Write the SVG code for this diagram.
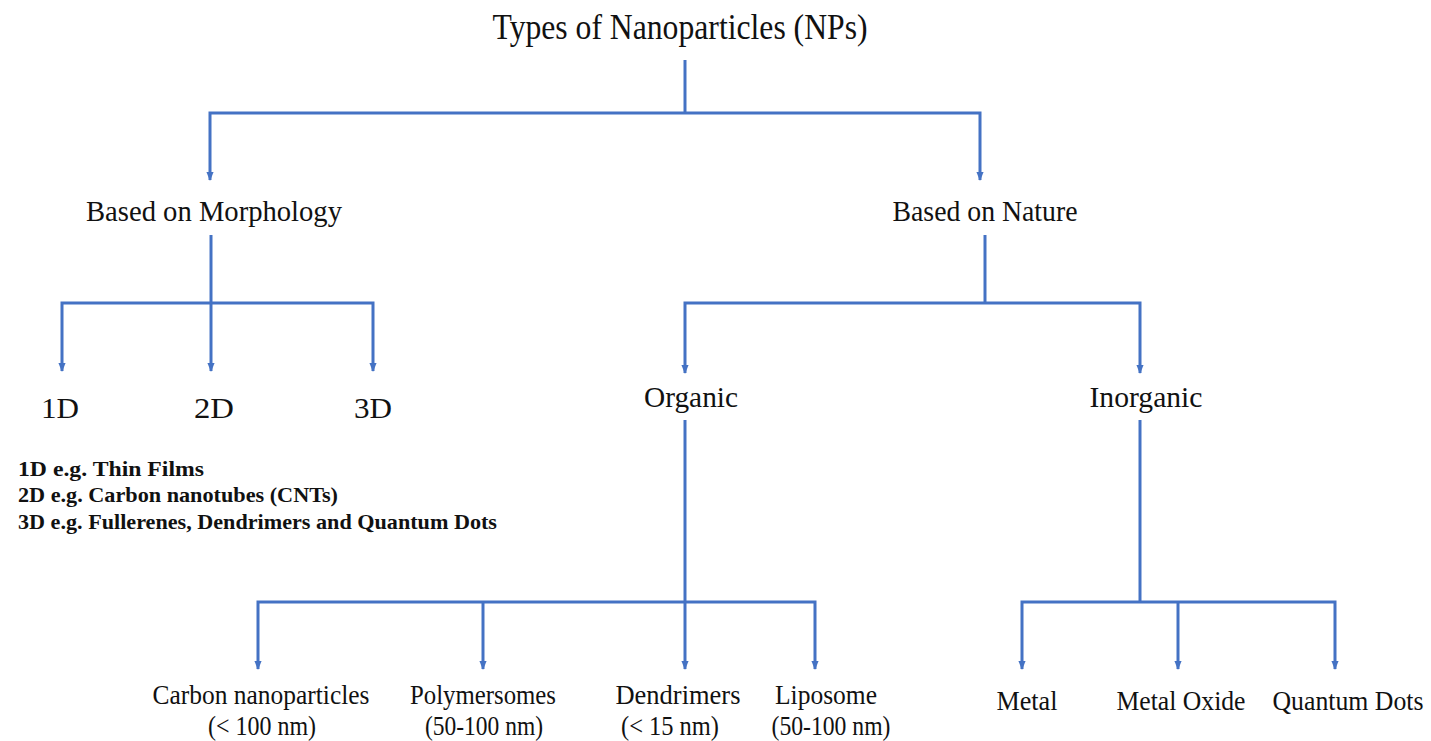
<svg xmlns="http://www.w3.org/2000/svg" width="1431" height="741" viewBox="0 0 1431 741">
<style>
  .t { font-family: "Liberation Serif", "Times New Roman", serif; fill: #111; text-anchor: middle; }
  .title { font-size: 36px; }
  .lvl1 { font-size: 30px; }
  .lvl2 { font-size: 30px; }
  .leaf { font-size: 27px; }
  .note { font-family: "Liberation Serif", "Times New Roman", serif; font-weight: bold; font-size: 21px; fill: #111; }
  .c { fill: none; stroke: #4472C4; stroke-width: 3; }
  .a { marker-end: url(#arr); }
</style>
<defs>
  <marker id="arr" viewBox="0 0 10 10" refX="9" refY="5" markerWidth="9" markerHeight="10" markerUnits="userSpaceOnUse" orient="auto">
    <path d="M0,1 L10,5 L0,9 z" fill="#4472C4"/>
  </marker>
</defs>
<rect width="1431" height="741" fill="#fff"/>
<g id="connectors">
  <path class="c" d="M685,60 V113"/>
  <path class="c a" d="M685,113 H210 V180"/>
  <path class="c a" d="M685,113 H980 V180"/>
  <path class="c" d="M211,235 V303"/>
  <path class="c a" d="M211,303 H62 V371"/>
  <path class="c a" d="M211,303 V371"/>
  <path class="c a" d="M211,303 H373 V371"/>
  <path class="c" d="M985,235 V303"/>
  <path class="c a" d="M985,303 H685 V373"/>
  <path class="c a" d="M985,303 H1140 V373"/>
  <path class="c" d="M685,420 V602"/>
  <path class="c a" d="M685,602 H258 V669"/>
  <path class="c a" d="M483,602 V669"/>
  <path class="c a" d="M685,602 V669"/>
  <path class="c a" d="M685,602 H815 V669"/>
  <path class="c" d="M1140,420 V602"/>
  <path class="c a" d="M1140,602 H1022 V669"/>
  <path class="c a" d="M1178,602 V669"/>
  <path class="c a" d="M1140,602 H1335 V669"/>
</g>
<g id="root"><text class="t title" x="680" y="39" textLength="375" lengthAdjust="spacingAndGlyphs">Types of Nanoparticles (NPs)</text></g>
<g id="morphology"><text class="t lvl1" x="214" y="221" textLength="256" lengthAdjust="spacingAndGlyphs">Based on Morphology</text></g>
<g id="nature"><text class="t lvl1" x="985" y="221" textLength="185" lengthAdjust="spacingAndGlyphs">Based on Nature</text></g>
<g id="d1"><text class="t lvl2" x="60" y="418" textLength="38" lengthAdjust="spacingAndGlyphs">1D</text></g>
<g id="d2"><text class="t lvl2" x="214" y="418" textLength="40" lengthAdjust="spacingAndGlyphs">2D</text></g>
<g id="d3"><text class="t lvl2" x="373" y="418" textLength="38" lengthAdjust="spacingAndGlyphs">3D</text></g>
<g id="dim-notes">
  <text class="note" x="18" y="476" textLength="186" lengthAdjust="spacingAndGlyphs">1D e.g. Thin Films</text>
  <text class="note" x="18" y="502" textLength="320" lengthAdjust="spacingAndGlyphs">2D e.g. Carbon nanotubes (CNTs)</text>
  <text class="note" x="18" y="529" textLength="479" lengthAdjust="spacingAndGlyphs">3D e.g. Fullerenes, Dendrimers and Quantum Dots</text>
</g>
<g id="organic"><text class="t lvl2" x="691" y="407" textLength="94" lengthAdjust="spacingAndGlyphs">Organic</text></g>
<g id="inorganic"><text class="t lvl2" x="1146" y="407" textLength="113" lengthAdjust="spacingAndGlyphs">Inorganic</text></g>
<g id="carbon">
  <text class="t leaf" x="261" y="704" textLength="217" lengthAdjust="spacingAndGlyphs">Carbon nanoparticles</text>
  <text class="t leaf" x="262" y="735" textLength="108" lengthAdjust="spacingAndGlyphs">(&lt; 100 nm)</text>
</g>
<g id="polymersomes">
  <text class="t leaf" x="483" y="704" textLength="146" lengthAdjust="spacingAndGlyphs">Polymersomes</text>
  <text class="t leaf" x="484" y="735" textLength="118" lengthAdjust="spacingAndGlyphs">(50-100 nm)</text>
</g>
<g id="dendrimers">
  <text class="t leaf" x="678" y="704" textLength="125" lengthAdjust="spacingAndGlyphs">Dendrimers</text>
  <text class="t leaf" x="670" y="735" textLength="98" lengthAdjust="spacingAndGlyphs">(&lt; 15 nm)</text>
</g>
<g id="liposome">
  <text class="t leaf" x="826" y="704" textLength="102" lengthAdjust="spacingAndGlyphs">Liposome</text>
  <text class="t leaf" x="831" y="735" textLength="119" lengthAdjust="spacingAndGlyphs">(50-100 nm)</text>
</g>
<g id="metal"><text class="t leaf" x="1027" y="710" textLength="61" lengthAdjust="spacingAndGlyphs">Metal</text></g>
<g id="metal-oxide"><text class="t leaf" x="1181" y="710" textLength="129" lengthAdjust="spacingAndGlyphs">Metal Oxide</text></g>
<g id="quantum-dots"><text class="t leaf" x="1348" y="710" textLength="151" lengthAdjust="spacingAndGlyphs">Quantum Dots</text></g>
</svg>
